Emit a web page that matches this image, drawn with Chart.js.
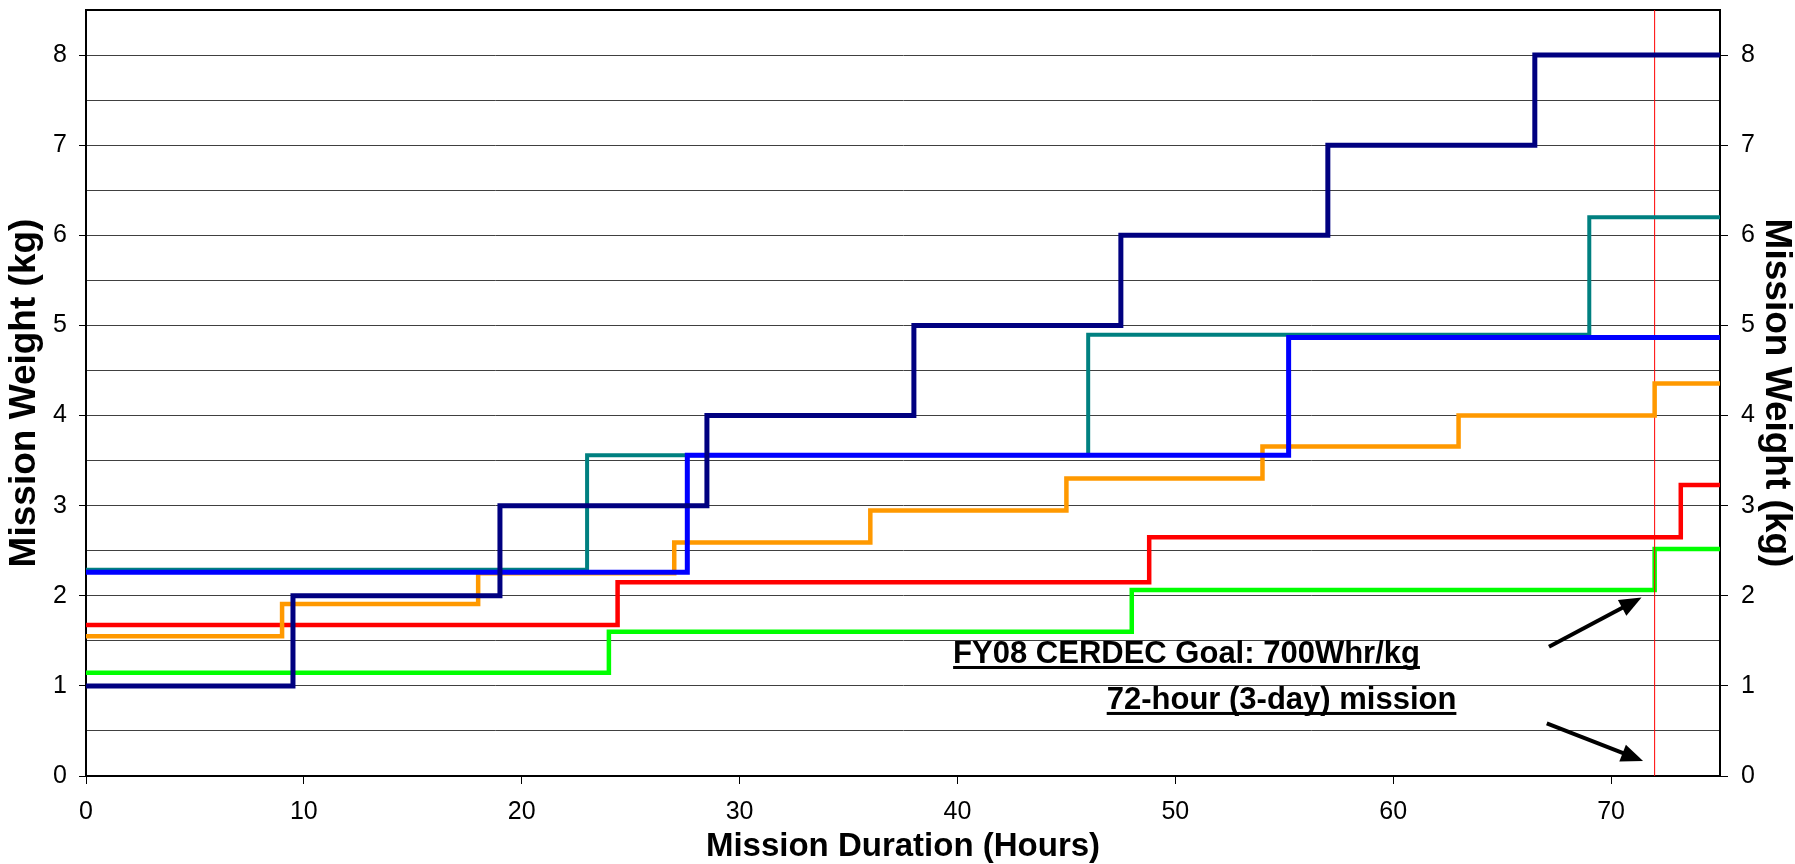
<!DOCTYPE html>
<html>
<head>
<meta charset="utf-8">
<script src="https://cdn.jsdelivr.net/npm/chart.js@4/dist/chart.umd.min.js"></script>
<style>
  html, body { margin: 0; padding: 0; background: #fff; overflow: hidden; }
  #wrap { width: 1795px; height: 864px; }
</style>
</head>
<body>
<div id="wrap"><canvas id="weightChart" width="1795" height="864"></canvas></div>
<script>
// step series: hour at which a new pack is added, and the weight carried from then on
const navyHours   = [0, 9.5, 19, 28.5, 38, 47.5, 57, 66.5, 75];
const navyKg      = [1, 2, 3, 4, 5, 6, 7, 8, 8];
const blueHours   = [0, 27.6, 55.2, 75];
const blueKg      = [2.26, 3.56, 4.865, 4.865];
const tealHours   = [0, 23, 46, 69, 75];
const tealKg      = [2.29, 3.56, 4.895, 6.2, 6.2];
const orangeHours = [0, 9, 18, 27, 36, 45, 54, 63, 72, 75];
const orangeKg    = [1.55, 1.91, 2.25, 2.59, 2.945, 3.30, 3.655, 4.0, 4.355, 4.355];
const redHours    = [0, 24.4, 48.8, 73.2, 75];
const redKg       = [1.675, 2.15, 2.65, 3.23, 3.23];
const greenHours  = [0, 24, 48, 72, 75];
const greenKg     = [1.145, 1.60, 2.065, 2.52, 2.52];

const missionHours = 72;
const xTicks = [0, 10, 20, 30, 40, 50, 60, 70];
const yTicks = [0, 1, 2, 3, 4, 5, 6, 7, 8];

const goalText = 'FY08 CERDEC Goal: 700Whr/kg';
const missionText = '72-hour (3-day) mission';

const FONT = '"Liberation Sans", Arial, sans-serif';

function toPoints(hours, kg) {
    return hours.map((h, i) => ({ x: h, y: kg[i] }));
}

function stepSet(hours, kg, color, width) {
    return {
        data: toPoints(hours, kg),
        borderColor: color,
        borderWidth: width,
        stepped: 'before',
        pointRadius: 0,
        fill: false
    };
}

// frame top edge, arrows and underlined notes
const notesPlugin = {
    id: 'notes',
    beforeDatasetsDraw(chart) {
        const { ctx, chartArea } = chart;
        ctx.save();
        ctx.strokeStyle = '#000';
        ctx.lineWidth = 2;
        ctx.beginPath();
        ctx.moveTo(chartArea.left, chartArea.top);
        ctx.lineTo(chartArea.right, chartArea.top);
        ctx.stroke();
        ctx.restore();
    },
    afterDatasetsDraw(chart) {
        const { ctx, scales: { x, y } } = chart;
        ctx.save();

        const arrow = (x0, y0, x1, y1) => {
            const px0 = x.getPixelForValue(x0), py0 = y.getPixelForValue(y0);
            const px1 = x.getPixelForValue(x1), py1 = y.getPixelForValue(y1);
            const ang = Math.atan2(py1 - py0, px1 - px0);
            const head = 22, half = 9;
            const bx = px1 - head * Math.cos(ang), by = py1 - head * Math.sin(ang);
            ctx.strokeStyle = '#000';
            ctx.fillStyle = '#000';
            ctx.lineWidth = 4;
            ctx.beginPath();
            ctx.moveTo(px0, py0);
            ctx.lineTo(bx + 4 * Math.cos(ang), by + 4 * Math.sin(ang));
            ctx.stroke();
            ctx.beginPath();
            ctx.moveTo(px1, py1);
            ctx.lineTo(bx + half * Math.sin(ang), by - half * Math.cos(ang));
            ctx.lineTo(bx - half * Math.sin(ang), by + half * Math.cos(ang));
            ctx.closePath();
            ctx.fill();
        };
        arrow(67.15, 1.435, 71.4, 1.98);
        arrow(67.05, 0.585, 71.47, 0.166);

        const note = (text, hx, ky) => {
            ctx.font = 'bold 31px ' + FONT;
            ctx.textBaseline = 'alphabetic';
            ctx.textAlign = 'left';
            ctx.fillStyle = '#000';
            const px = x.getPixelForValue(hx), py = y.getPixelForValue(ky);
            ctx.fillText(text, px, py);
            const w = ctx.measureText(text).width;
            ctx.fillRect(px, py + 3, w, 3);
        };
        note(goalText, 39.8, 1.254);
        note(missionText, 46.85, 0.744);
        ctx.restore();
    }
};

const tickMark = c => (c.tick && Number.isInteger(c.tick.value)) ? '#000' : 'rgba(0,0,0,0)';
const intLabel = v => (Number.isInteger(v) && yTicks.includes(v)) ? String(v) : '';
const fixWidth = w => s => { s.width = w; s.paddingTop = 0; s.paddingBottom = 0; };

new Chart(document.getElementById('weightChart'), {
    type: 'line',
    data: {
        datasets: [
            stepSet(navyHours, navyKg, '#000080', 5),
            stepSet(blueHours, blueKg, '#0000FF', 5),
            stepSet(tealHours, tealKg, '#008080', 4),
            stepSet(orangeHours, orangeKg, '#FF9900', 4.5),
            {
                data: [{ x: missionHours, y: 0 }, { x: missionHours, y: 8.5 }],
                borderColor: '#FF0000',
                borderWidth: 1,
                pointRadius: 0,
                fill: false
            },
            stepSet(redHours, redKg, '#FF0000', 4.5),
            stepSet(greenHours, greenKg, '#00FF00', 4.5)
        ]
    },
    options: {
        responsive: false,
        animation: false,
        layout: { padding: { top: 10, left: 0, right: 0, bottom: 0 } },
        plugins: { legend: { display: false }, tooltip: { enabled: false }, title: { display: false } },
        scales: {
            x: {
                type: 'linear',
                min: 0, max: 75,
                afterBuildTicks: s => { s.ticks = xTicks.map(v => ({ value: v })); },
                afterFit: s => { s.height = 88; s.paddingLeft = 0; s.paddingRight = 0; },
                ticks: { color: '#000', font: { family: FONT, size: 25 }, padding: 13, maxRotation: 0, autoSkip: false },
                grid: { drawOnChartArea: false, tickLength: 8, tickColor: '#000' },
                border: { color: '#000', width: 2 },
                title: { display: true, text: 'Mission Duration (Hours)', color: '#000', font: { family: FONT, size: 33, weight: 'bold', lineHeight: 1 }, padding: { top: 0, bottom: 1 } }
            },
            y: {
                position: 'left',
                min: 0, max: 8.5,
                ticks: { stepSize: 0.5, callback: intLabel, color: '#000', font: { family: FONT, size: 25 }, padding: 12, autoSkip: false },
                afterFit: fixWidth(86),
                grid: { color: '#404040', lineWidth: 1, tickLength: 7, tickColor: tickMark },
                border: { color: '#000', width: 2 },
                title: { display: true, text: 'Mission Weight (kg)', color: '#000', font: { family: FONT, size: 37, weight: 'bold', lineHeight: 1 }, padding: { top: 6, bottom: 0 } }
            },
            y2: {
                position: 'right',
                min: 0, max: 8.5,
                ticks: { stepSize: 0.5, callback: intLabel, color: '#000', font: { family: FONT, size: 25 }, padding: 13, autoSkip: false },
                afterFit: fixWidth(75),
                grid: { drawOnChartArea: false, tickLength: 8, tickColor: tickMark },
                border: { color: '#000', width: 2 },
                title: { display: true, text: 'Mission Weight (kg)', color: '#000', font: { family: FONT, size: 37, weight: 'bold', lineHeight: 1 }, padding: { top: 0, bottom: 0 } }
            }
        }
    },
    plugins: [notesPlugin]
});
</script>
</body>
</html>
